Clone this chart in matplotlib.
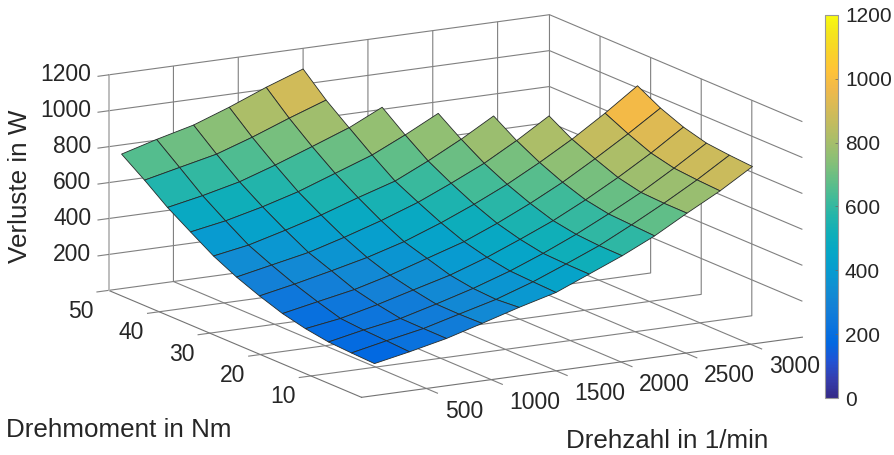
import numpy as np
import matplotlib
matplotlib.use("Agg")
import matplotlib.pyplot as plt
from matplotlib.colors import LinearSegmentedColormap, Normalize
from matplotlib.cm import ScalarMappable
from matplotlib.ticker import NullFormatter
from mpl_toolkits.mplot3d.art3d import Poly3DCollection

plt.rcParams['font.family'] = ['Liberation Sans', 'DejaVu Sans']

# grid of the map
drehzahl = [100, 370, 655, 930, 1215, 1500, 1755, 2010, 2260, 2510, 2765, 3015]
drehmoment = [0, 4.55, 9.09, 13.64, 18.18, 22.73, 27.27, 31.82, 36.36, 40.91, 45.45, 50]

n = np.nan
# losses in W, one row per torque value, nan = outside of the operating range
verluste = np.array([
    [178, 217, 263, 320, 381, 436, 513, 590, 676, 778, 877, 988],
    [183, 224, 264, 317, 371, 441, 515, 592, 683, 779, 884, 997],
    [190, 230, 266, 319, 378, 447, 520, 601, 690, 785, 895, 1010],
    [210, 240, 289, 343, 398, 469, 544, 623, 714, 814, 925, 1045],
    [240, 279, 319, 372, 437, 502, 579, 665, 758, 864, 978, 1097],
    [284, 323, 369, 416, 476, 553, 631, 717, 814, 919, 1039, 1167],
    [335, 375, 417, 474, 539, 613, 694, 780, 882, 995, n, n],
    [398, 432, 487, 544, 613, 677, 764, 860, 965, n, n, n],
    [478, 513, 563, 620, 694, 768, 855, 950, n, n, n, n],
    [560, 599, 648, 714, 789, 866, 955, n, n, n, n, n],
    [658, 702, 748, 815, 893, 966, n, n, n, n, n, n],
    [749, 804, 856, 928, 1011, 1085, n, n, n, n, n, n],
])

x_ticks = [500, 1000, 1500, 2000, 2500, 3000]
y_ticks = [10, 20, 30, 40, 50]
z_ticks = [200, 400, 600, 800, 1000, 1200]
cbar_ticks = [0, 200, 400, 600, 800, 1000, 1200]

# parula
parula = LinearSegmentedColormap.from_list("parula", [
    (0.2081, 0.1663, 0.5292), (0.2081, 0.2386, 0.6771), (0.1253, 0.3242, 0.8303),
    (0.0060, 0.4086, 0.8828), (0.0498, 0.4586, 0.8641), (0.0779, 0.5040, 0.8384),
    (0.0641, 0.5570, 0.8240), (0.0265, 0.6137, 0.8135), (0.0228, 0.6535, 0.7768),
    (0.0590, 0.6838, 0.7254), (0.1453, 0.7098, 0.6646), (0.2586, 0.7317, 0.5954),
    (0.3953, 0.7459, 0.5244), (0.5300, 0.7491, 0.4661), (0.6473, 0.7456, 0.4188),
    (0.7525, 0.7384, 0.3768), (0.8507, 0.7299, 0.3360), (0.9450, 0.7261, 0.2886),
    (0.9990, 0.7653, 0.2164), (0.9789, 0.8271, 0.1633), (0.9589, 0.8949, 0.1132),
    (0.9763, 0.9831, 0.0538)], N=256)
norm = Normalize(0, 1200)
text_color = (0.15, 0.15, 0.15)

fig = plt.figure(figsize=(8.95, 4.55), dpi=100)

S = 732
ax = fig.add_axes([79.6 / 895, -126.9 / 455, S / 895, S / 455], projection='3d', proj_type='ortho')
ax.view_init(elev=13.9, azim=-119.6)
ax.set_box_aspect((507, 512, 222))
ax.patch.set_alpha(0)

# =========================================================
# SURFACE
# =========================================================

polys = []
colors = []
for j in range(len(drehmoment) - 1):
    for i in range(len(drehzahl) - 1):
        cell = [(i, j), (i + 1, j), (i + 1, j + 1), (i, j + 1)]
        if np.isnan([verluste[b, a] for a, b in cell]).any():
            continue
        polys.append([(drehzahl[a], drehmoment[b], verluste[b, a]) for a, b in cell])
        colors.append(parula(norm(verluste[j, i])))

surf = Poly3DCollection(polys, facecolors=colors, edgecolors=(0.15, 0.17, 0.17), linewidths=0.6)
ax.add_collection3d(surf)

# =========================================================
# AXES
# =========================================================

ax.set_xlim(0, 3400)
ax.set_ylim(0, 50)
ax.set_zlim(0, 1200)
ax.set_xticks(x_ticks)
ax.set_yticks(y_ticks)
ax.set_zticks(z_ticks)

for axis in (ax.xaxis, ax.yaxis, ax.zaxis):
    axis.set_pane_color((1, 1, 1, 0))
    axis.pane.set_edgecolor((1, 1, 1, 0))
    axis.line.set_color((0.45, 0.45, 0.45))
    axis.line.set_linewidth(0.8)
    axis._axinfo['grid'].update(color=(0.5, 0.5, 0.5), linewidth=0.8)
    axis.set_major_formatter(NullFormatter())

# the ticks of this view point away from the box with inward_factor
ax.xaxis._axinfo['tick'].update(inward_factor=0.55, outward_factor=0, linewidth={True: 0.8, False: 0.8})
ax.yaxis._axinfo['tick'].update(inward_factor=0.33, outward_factor=0, linewidth={True: 0.8, False: 0.8})
ax.zaxis._axinfo['tick'].update(inward_factor=0.3, outward_factor=0, linewidth={True: 0.8, False: 0.8})
ax.tick_params(colors=(0.5, 0.5, 0.5), labelcolor=text_color)
ax.zaxis.line.set_color((0.72, 0.72, 0.72))
ax.zaxis.line.set_linewidth(1.3)

# tick labels sit off the box, offsets are in data units
for s in x_ticks:
    ax.text(s, -3.66, -82, str(s), ha='left', va='center', fontsize=16.5, color=text_color)
for t in y_ticks:
    ax.text(-118, t, -105, str(t), ha='right', va='center', fontsize=16.5, color=text_color)
for v in z_ticks:
    ax.text(0, 53.4, v - 38, str(v), ha='right', va='center', fontsize=16.5, color=text_color)

fig.text(20 / 895, 1 - 186 / 455, "Verluste in W", rotation=90, ha='center', va='center',
         fontsize=18.7, color=text_color)
fig.text(119 / 895, 1 - 430 / 455, "Drehmoment in Nm", ha='center', va='center',
         fontsize=18.7, color=text_color)
fig.text(667.5 / 895, 1 - 441.5 / 455, "Drehzahl in 1/min", ha='center', va='center',
         fontsize=18.7, color=text_color)

# =========================================================
# COLORBAR
# =========================================================

cax = fig.add_axes([825 / 895, 1 - 398 / 455, 13 / 895, 383 / 455])
cbar = fig.colorbar(ScalarMappable(norm=norm, cmap=parula), cax=cax)
cbar.set_ticks(cbar_ticks)
cbar.ax.tick_params(labelsize=15, labelcolor=text_color, length=2.5, width=0.5, color=(0.4, 0.4, 0.4),
                    direction='in', pad=5)
cbar.outline.set_edgecolor((0.6, 0.6, 0.6))
cbar.outline.set_linewidth(0.8)

plt.savefig("out.png", dpi=100)
